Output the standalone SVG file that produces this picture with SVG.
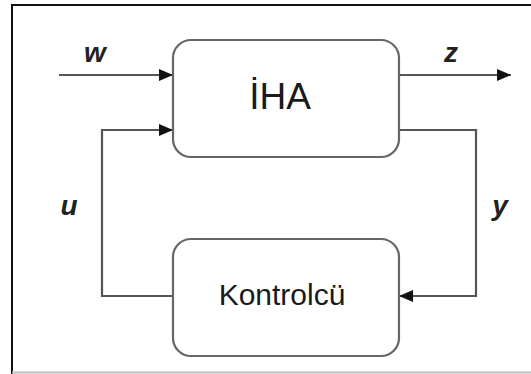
<svg xmlns="http://www.w3.org/2000/svg" width="531" height="374" viewBox="0 0 531 374">
<style>
.box{fill:#fff;stroke:#666;stroke-width:2.2}
.wire{fill:none;stroke:#555;stroke-width:2.2}
.lbl{font-family:"Liberation Sans",Arial,sans-serif;font-style:italic;font-weight:bold;font-size:28px;fill:#222;text-anchor:middle}
.name{font-family:"Liberation Sans",Arial,sans-serif;fill:#1a1a1a;text-anchor:middle}
</style>
<defs>
<marker id="ah" markerUnits="userSpaceOnUse" markerWidth="14" markerHeight="12" refX="14" refY="6" orient="auto">
<path d="M0,0 L14,6 L0,12 z" fill="#111"/>
</marker>
</defs>
<rect width="531" height="374" fill="#fff"/>
<path d="M12,374 V5 H531" fill="none" stroke="#111" stroke-width="2"/>
<line x1="12" y1="372.5" x2="531" y2="372.5" stroke="#bbb" stroke-width="2"/>
<g id="connectors">
<path class="wire" d="M59,75 H173" marker-end="url(#ah)"/>
<path class="wire" d="M399,75 H511" marker-end="url(#ah)"/>
<path class="wire" d="M173,296 H102 V130 H173" marker-end="url(#ah)"/>
<path class="wire" d="M399,130 H476 V296 H399" marker-end="url(#ah)"/>
</g>
<g id="IHA">
<rect class="box" x="173" y="40" width="226" height="117" rx="18"/>
<text class="name" x="280" y="109" font-size="37">İHA</text>
</g>
<g id="Kontrolcu">
<rect class="box" x="173" y="239" width="226" height="117" rx="18"/>
<text class="name" x="282" y="305" font-size="30">Kontrolcü</text>
</g>
<g id="labels">
<text class="lbl" x="95" y="62">w</text>
<text class="lbl" x="451" y="62">z</text>
<text class="lbl" x="69" y="215">u</text>
<text class="lbl" x="500" y="215">y</text>
</g>
</svg>
